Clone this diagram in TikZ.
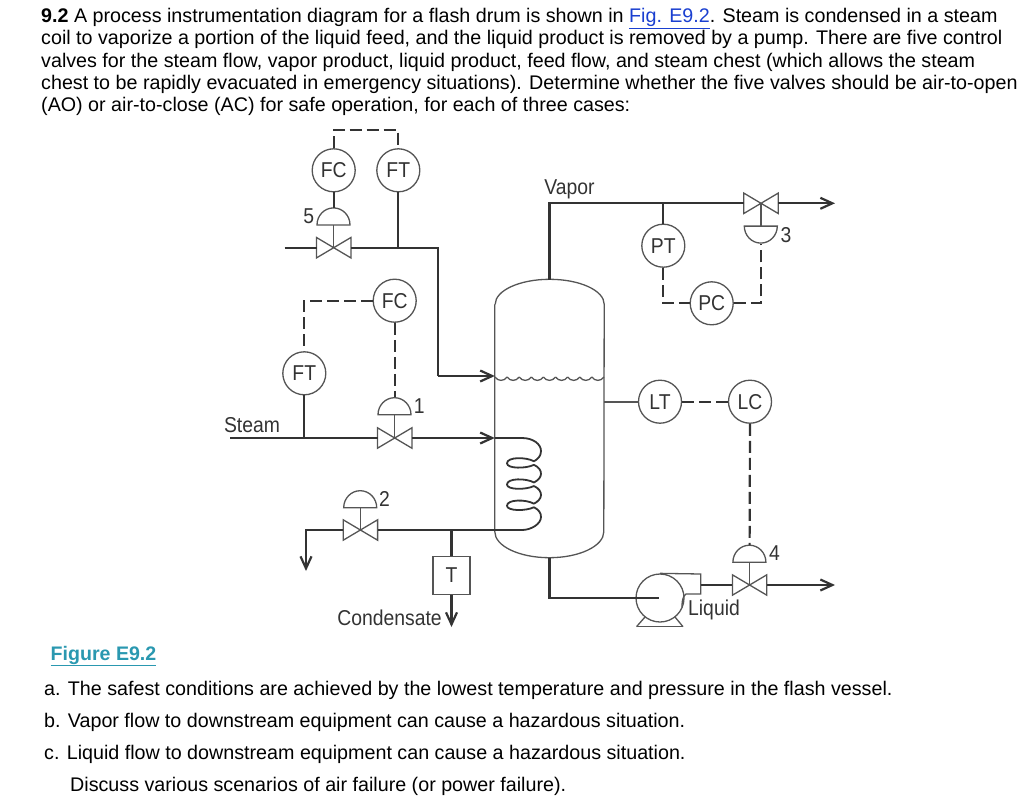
\documentclass[tikz,border=0pt]{standalone}
\usepackage{fontspec}
\setmainfont{Liberation Sans}
\newfontfamily\figfont[FakeStretch=.9]{Liberation Sans}
\usetikzlibrary{shapes,arrows.meta}
\definecolor{pipecol}{HTML}{333333}
\definecolor{unitcol}{HTML}{555555}
\definecolor{linkcol}{HTML}{1A3FD0}
\definecolor{figcol}{HTML}{2A98B0}
\tikzset{
  body/.style     = {anchor=base west, inner sep=0, text=black, font=\fontsize{19.7}{22}\selectfont},
  tag/.style      = {inner sep=0, text=pipecol, font=\figfont\fontsize{21.5}{22}\selectfont},
  sensor/.style   = {draw=unitcol, fill=white, line width=1.3pt, circle, minimum size=43pt, inner sep=0, text=pipecol, font=\figfont\fontsize{21.5}{22}\selectfont},
  trapbox/.style  = {draw=unitcol, line width=1.3pt, rectangle, minimum width=37pt, minimum height=38pt, inner sep=0, text=pipecol, font=\figfont\fontsize{21.5}{22}\selectfont},
  valve/.style    = {rectangle, minimum width=34pt, minimum height=20pt, inner sep=0},
  dome/.style     = {rectangle, minimum width=33pt, minimum height=17pt, inner sep=0},
  unit/.style     = {draw=unitcol, line width=1.3pt},
  pipe/.style     = {draw=pipecol, line width=2.2pt},
  sigline/.style  = {draw=pipecol, line width=2.2pt, dash pattern=on 12pt off 5pt}
}
\newcommand{\valvebody}[1]{\draw[unit] (#1.south west) -- (#1.north east) -- (#1.south east) -- (#1.north west) -- cycle;}
\newcommand{\domeup}[1]{\draw[unit] (#1.south west) arc (180:360:16.5 and 17) -- cycle;}
\newcommand{\domedown}[1]{\draw[unit] (#1.north west) arc (180:0:16.5 and 17) -- cycle;}
\begin{document}
\begin{tikzpicture}[x=1pt, y=-1pt, node distance=64pt, >={Straight Barb[length=12pt,width=11pt]}]
\useasboundingbox (0,0) rectangle (1024,797);

% Problem text
\node [body] (line1) at (41,22.5) {\textbf{9.2} A process instrumentation diagram for a flash drum is shown in \textcolor{linkcol}{\underline{Fig. E9.2}}. Steam is condensed in a steam};
\node [body] (line2) at (41,45) {coil to vaporize a portion of the liquid feed, and the liquid product is removed by a pump. There are five control};
\node [body] (line3) at (41,67.5) {valves for the steam flow, vapor product, liquid product, feed flow, and steam chest (which allows the steam};
\node [body] (line4) at (41,89.5) {chest to be rapidly evacuated in emergency situations). Determine whether the five valves should be air-to-open};
\node [body] (line5) at (41,112) {(AO) or air-to-close (AC) for safe operation, for each of three cases:};

% Drum
\node [rectangle, minimum width=109pt, minimum height=227pt, inner sep=0] (drum) at (549.5,418) {};
\draw[unit] (drum.north west) -- (drum.south west) arc (180:0:54.5 and 26) -- (drum.north east) arc (0:-180:54.5 and 25);
\coordinate (top) at (549.5,280);
\coordinate (bottom) at (549.5,557.5);
\foreach \i in {0,...,8}
  \draw[unit] (495+12.11*\i,377) .. controls (498+12.11*\i,381.5) and (504+12.11*\i,381.5) .. (507.11+12.11*\i,377);

% Feed flow
\draw node [sensor, name=fc5] at (333.7,170.3) {FC};
\draw node [sensor, name=ft5, right of=fc5, node distance=64.6pt] {FT};
\draw node [valve, name=v5, below of=fc5, node distance=77.4pt] {};
\draw node [dome, name=a5, above of=v5, node distance=31.5pt] {};
\draw node [tag, name=n5, left of=a5, node distance=25pt] {5};
\valvebody{v5}
\domeup{a5}
\coordinate (feed) at (284.5,247.7);
\coordinate (feedbend) at (438.3,247.7);
\coordinate (feedlow) at (438.3,376);
\draw[pipe] (feed) -- (v5.west);
\draw[pipe] (v5.east) -- (feedbend) -- (feedlow);
\draw[pipe,->] (feedlow) -- (feedlow -| drum.west);
\draw[pipe] (ft5) -- (ft5 |- v5);
\draw[pipe] (fc5) -- (a5.north);
\draw[unit] (a5.south) -- (v5.center);
\draw[sigline] (fc5.north) -- ++(0,-18) -| (ft5.north);

% Steam flow
\draw node [sensor, name=fc1] at (394.7,300.7) {FC};
\draw node [sensor, name=ft1] at (304.3,373.3) {FT};
\draw node [valve, name=v1, below of=fc1, node distance=137.3pt] {};
\draw node [dome, name=a1, above of=v1, node distance=32pt] {};
\draw node [tag, name=n1, right of=a1, node distance=24.5pt] {1};
\draw node [tag, name=steam] at (252,425) {Steam};
\valvebody{v1}
\domeup{a1}
\coordinate (steamin) at (230,438);
\coordinate (cointop) at (522,438);
\draw[pipe] (steamin) -- (v1.west);
\draw[pipe,->] (v1.east) -- (v1 -| drum.west);
\draw[pipe] (v1 -| drum.west) -- (cointop);
\draw[pipe] (ft1) -- (ft1 |- v1);
\draw[unit] (a1.south) -- (v1.center);
\draw[sigline] (fc1.west) -| (ft1.north);
\draw[sigline] (fc1.south) -- (a1.north);

% Coil
\draw[pipe, line width=1.8pt] (cointop) .. controls (533,438) and (541,444) .. (541,451) .. controls (541,456) and (538,459) .. (534,461.3);
\foreach \y in {463.3,484.5,505.7}
  \draw[pipe, line width=1.8pt] (534,\y-2) .. controls (526,\y-6.5) and (507,\y-6.5) .. (507,\y) .. controls (507,\y+5.5) and (526,\y+5.5) .. (534,\y+1.5);
\foreach \y in {463.3,484.5}
  \draw[pipe, line width=1.8pt] (534,\y+1.5) .. controls (539,\y+4) and (541,\y+7) .. (541,\y+10.6) .. controls (541,\y+14) and (538,\y+17) .. (534,\y+19.2);
\draw[pipe, line width=1.8pt] (534,507.2) .. controls (539,510) and (541,513) .. (541,517) .. controls (541,524) and (531,530) .. (522,530);

% Condensate
\coordinate (coilend) at (522,530);
\node [valve] (v2) at (360.4,530) {};
\draw node [dome, name=a2, above of=v2, node distance=31pt] {};
\draw node [tag, name=n2, right of=a2, node distance=24pt] {2};
\draw node [trapbox, name=trap] at (451.5,575.5) {T};
\draw node [tag, name=cond] at (389.5,618) {Condensate};
\valvebody{v2}
\domeup{a2}
\coordinate (vent) at (306,530);
\coordinate (venttip) at (306,571);
\coordinate (traptip) at (451.5,627);
\draw[pipe] (coilend) -- (v2.east);
\draw[pipe,->] (v2.west) -- (vent) -- (venttip);
\draw[pipe] (trap.north) -- (trap.north |- coilend);
\draw[pipe,->] (trap.south) -- (traptip);
\draw[unit] (a2.south) -- (v2.center);

% Vapor line
\draw node [sensor, name=pt3] at (663.3,245.7) {PT};
\draw node [sensor, name=pc3] at (711.7,303.3) {PC};
\draw node [valve, name=v3] at (761,203.3) {};
\draw node [dome, name=a3, below of=v3, node distance=31.5pt] {};
\draw node [tag, name=n3, right of=a3, node distance=25pt] {3};
\draw node [tag, name=vapor] at (569.5,189) {Vapor};
\valvebody{v3}
\domedown{a3}
\coordinate (vapend) at (835,203.3);
\draw[pipe] (top) -- (top |- v3) -- (v3.west);
\draw[pipe,->] (v3.east) -- (vapend);
\draw[pipe] (pt3) -- (pt3 |- v3);
\draw[unit] (v3.center) -- (a3.north);
\draw[sigline] (pt3.south) |- (pc3.west);
\draw[sigline] (pc3.east) -| (a3.south);

% Level loop
\draw node [sensor, name=lt4] at (660,401.7) {LT};
\draw node [sensor, name=lc4, right of=lt4, node distance=90pt] {LC};
\draw node [valve, name=v4] at (749.6,585) {};
\draw node [dome, name=a4, above of=v4, node distance=31.5pt] {};
\draw node [tag, name=n4, right of=a4, node distance=25pt] {4};
\draw node [tag, name=liquid] at (714,610) {Liquid};
\valvebody{v4}
\domeup{a4}
\coordinate (liqend) at (835,585);
\draw[unit, line width=1.8pt] (drum.east |- lt4) -- (lt4);
\draw[sigline] (lt4) -- (lc4);
\draw[sigline] (lc4.south) -- (a4.north);
\draw[unit] (a4.south) -- (v4.center);
\draw[pipe,->] (v4.east) -- (liqend);

% Pump
\node [circle, draw=unitcol, line width=1.3pt, minimum size=48pt, inner sep=0] (pump) at (660,598) {};
\draw[unit] (pump.north) -- (700.7,574) -- (700.7,594) -- (686,594) .. controls (682,596) and (682,604) .. (682,607);
\draw[unit] (636.5,626.7) -- (683,626.7);
\draw[unit] (636.5,626.7) -- (645,617);
\draw[unit] (683,626.7) -- (675,617);
\coordinate (pumpin) at (659,597.7);
\draw[pipe] (bottom) -- (bottom |- pumpin) -- (pumpin);
\draw[pipe] (700.7,585) -- (v4.west);

% Questions
\node [body, text=figcol, font=\fontsize{19.6}{22}\selectfont\bfseries] (figname) at (50.5,660) {\underline{Figure E9.2}};
\node [body] (casea) at (44,695) {a. The safest conditions are achieved by the lowest temperature and pressure in the flash vessel.};
\node [body] (caseb) at (44,727) {b. Vapor flow to downstream equipment can cause a hazardous situation.};
\node [body] (casec) at (44,759) {c. Liquid flow to downstream equipment can cause a hazardous situation.};
\node [body] (discuss) at (70,791) {Discuss various scenarios of air failure (or power failure).};

\end{tikzpicture}
\end{document}
